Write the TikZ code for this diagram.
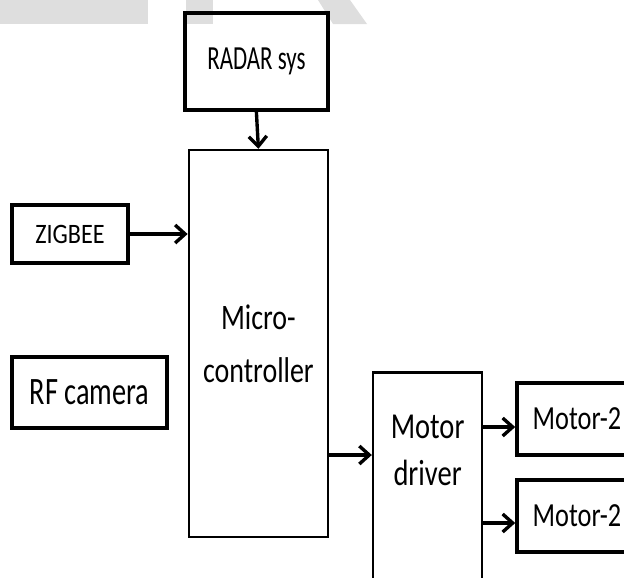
\documentclass[tikz,border=0pt]{standalone}
\usepackage{fontspec}
\setmainfont{Carlito}
\usetikzlibrary{arrows.meta}
\newcommand\carattere[3]{\fontsize{#1}{#2}\selectfont\addfontfeature{FakeStretch=#3}}
\tikzset{
  blocco/.style={draw, line width=2.6pt, inner sep=0pt},
  bloccosottile/.style={draw, line width=1.8pt, inner sep=0pt},
  freccia/.style={line width=2.4pt, -{Straight Barb[length=2.5mm,width=4.5mm]}},
}
\begin{document}
\begin{tikzpicture}
    \useasboundingbox (0,0) rectangle (15.6,-14.425);
    %filigrana
    \fill[black!13] (0,0) rectangle (3.7,-0.6);
    \fill[black!13] (4.65,0) rectangle (5.325,-0.6);
    \fill[black!13] (7.95,0)--(8.75,0)--(9.175,-0.6)--(8.325,-0.6)--cycle;
    %blocchi
    \node[blocco, minimum width=3.575cm, minimum height=2.425cm, font=\carattere{24}{28}{0.68}] (radar) at (6.41,-1.54)
        {RADAR sys};
    \node[bloccosottile, minimum width=3.475cm, minimum height=9.675cm, align=center, font=\carattere{25.5}{37.7}{0.78}] (micro) at (6.46,-8.59)
        {Micro-\\controller};
    \node[blocco, minimum width=2.9cm, minimum height=1.45cm, font=\carattere{20}{24}{0.86}] (zigbee) at (1.75,-5.85)
        {ZIGBEE};
    \node[blocco, minimum width=3.875cm, minimum height=1.775cm, font=\carattere{27.6}{32}{0.73}] (rfcam) at (2.24,-9.81)
        {RF camera};
    \node[bloccosottile, minimum width=2.725cm, minimum height=5.275cm, anchor=north] (driver) at (10.69,-9.275) {};
    \node[align=center, font=\carattere{26}{33.4}{0.78}] (drvtesto) at (10.69,-11.25)
        {Motor\\driver};
    \node[blocco, minimum width=3cm, minimum height=1.8cm, font=\carattere{24}{28}{0.78}] (motA) at (14.425,-10.475)
        {Motor-2};
    \node[blocco, minimum width=3cm, minimum height=1.8cm, font=\carattere{24}{28}{0.78}] (motB) at (14.425,-12.9)
        {Motor-2};
    %frecce
    \coordinate (drvin) at ([yshift=-2.1cm]driver.north west);
    \coordinate (motAin) at ([yshift=-0.2cm]motA.west);
    \coordinate (motBin) at ([yshift=-0.175cm]motB.west);
    \draw[freccia] (radar.south) -- (micro.north);
    \draw[freccia] (zigbee.east) -- (zigbee.east -| micro.west);
    \draw[freccia] (micro.east |- drvin) -- (drvin);
    \draw[freccia] (driver.east |- motAin) -- (motAin);
    \draw[freccia] (driver.east |- motBin) -- (motBin);
\end{tikzpicture}
\end{document}
